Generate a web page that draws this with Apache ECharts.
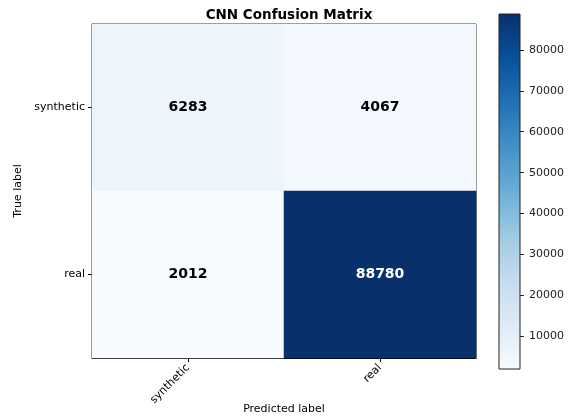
<!DOCTYPE html>
<html>
<head>
<meta charset="utf-8">
<script src="https://cdn.jsdelivr.net/npm/echarts@6/dist/echarts.min.js"></script>
<style>
  html, body { margin: 0; padding: 0; background: #fff; }
  #chart { width: 573px; height: 420px; }
</style>
</head>
<body>
<div id="chart"></div>
<script>
// Class labels (rows = true label, columns = predicted label)
const classLabels = ['synthetic', 'real'];
// Confusion counts: row i = true class i, column j = predicted class j
const countsSynthetic = [6283, 4067];
const countsReal = [2012, 88780];
// Colorbar tick values
const colorbarTicks = [10000, 20000, 30000, 40000, 50000, 60000, 70000, 80000];

const matrix = [countsSynthetic, countsReal];
const allValues = matrix.flat();
const vMin = Math.min(...allValues);
const vMax = Math.max(...allValues);
const threshold = vMax / 2;

// Matplotlib "Blues" colour ramp
const blues = ['#f7fbff', '#deebf7', '#c6dbef', '#9ecae1', '#6baed6',
               '#4292c6', '#2171b5', '#08519c', '#08306b'];

const cells = [];
matrix.forEach((row, i) => {
  row.forEach((v, j) => {
    cells.push({
      value: [j, i, v],
      label: { color: v > threshold ? '#ffffff' : '#000000' }
    });
  });
});

const FONT = 'DejaVu Sans';
const chart = echarts.init(document.getElementById('chart'), null, { renderer: 'canvas' });

chart.setOption({
  animation: false,
  backgroundColor: '#ffffff',
  textStyle: { fontFamily: FONT },
  title: {
    text: 'CNN Confusion Matrix',
    left: 284,
    textAlign: 'center',
    top: 3,
    textStyle: { fontFamily: FONT, fontSize: 13.5, fontWeight: 'bold', color: '#000' }
  },
  grid: [
    { left: 92, top: 24, width: 384, height: 334, show: true, outerBoundsMode: 'none',
      borderColor: '#000', borderWidth: 1, backgroundColor: 'transparent', containLabel: false },
    { left: 499, top: 14, width: 21, height: 355, show: true, outerBoundsMode: 'none',
      borderColor: '#222', borderWidth: 1, containLabel: false,
      backgroundColor: {
        type: 'linear', x: 0, y: 1, x2: 0, y2: 0,
        colorStops: blues.map((c, k) => ({ offset: k / (blues.length - 1), color: c }))
      } }
  ],
  xAxis: [
    {
      gridIndex: 0, type: 'category', data: classLabels,
      name: 'Predicted label', nameLocation: 'middle', nameGap: 46, nameMoveOverlap: false,
      nameTextStyle: { fontFamily: FONT, fontSize: 11, color: '#000' },
      axisLine: { show: true, lineStyle: { color: '#000', width: 1 } },
      axisTick: { show: true, alignWithLabel: true, length: 4, lineStyle: { color: '#000' } },
      axisLabel: { rotate: 45, fontFamily: FONT, fontSize: 11, color: '#000', margin: 8, interval: 0 },
      splitLine: { show: false }
    },
    { gridIndex: 1, type: 'category', data: [''], show: false }
  ],
  yAxis: [
    {
      gridIndex: 0, type: 'category', data: classLabels, inverse: true,
      name: 'True label', nameLocation: 'middle', nameGap: 68, nameMoveOverlap: false,
      nameTextStyle: { fontFamily: FONT, fontSize: 11, color: '#000' },
      axisLine: { show: true, lineStyle: { color: '#000', width: 1 } },
      axisTick: { show: true, alignWithLabel: true, length: 4, lineStyle: { color: '#000' } },
      axisLabel: { fontFamily: FONT, fontSize: 11, color: '#000', margin: 7, interval: 0 },
      splitLine: { show: false }
    },
    {
      gridIndex: 1, type: 'value', position: 'right',
      min: vMin, max: vMax,
      axisLine: { show: false },
      axisTick: { show: true, length: 4, inside: false, customValues: colorbarTicks,
                  lineStyle: { color: '#222' } },
      axisLabel: { show: true, fontFamily: FONT, fontSize: 11, color: '#222', margin: 9,
                   customValues: colorbarTicks, formatter: v => String(v) },
      splitLine: { show: false }
    }
  ],
  visualMap: {
    show: false,
    type: 'continuous',
    min: vMin, max: vMax,
    seriesIndex: 0,
    inRange: { color: blues }
  },
  series: [{
    type: 'heatmap',
    xAxisIndex: 0, yAxisIndex: 0,
    data: cells,
    itemStyle: { borderWidth: 0 },
    label: {
      show: true,
      fontFamily: FONT, fontSize: 14, fontWeight: 'bold',
      formatter: p => String(p.value[2])
    },
    emphasis: { disabled: true }
  }]
});
</script>
</body>
</html>
